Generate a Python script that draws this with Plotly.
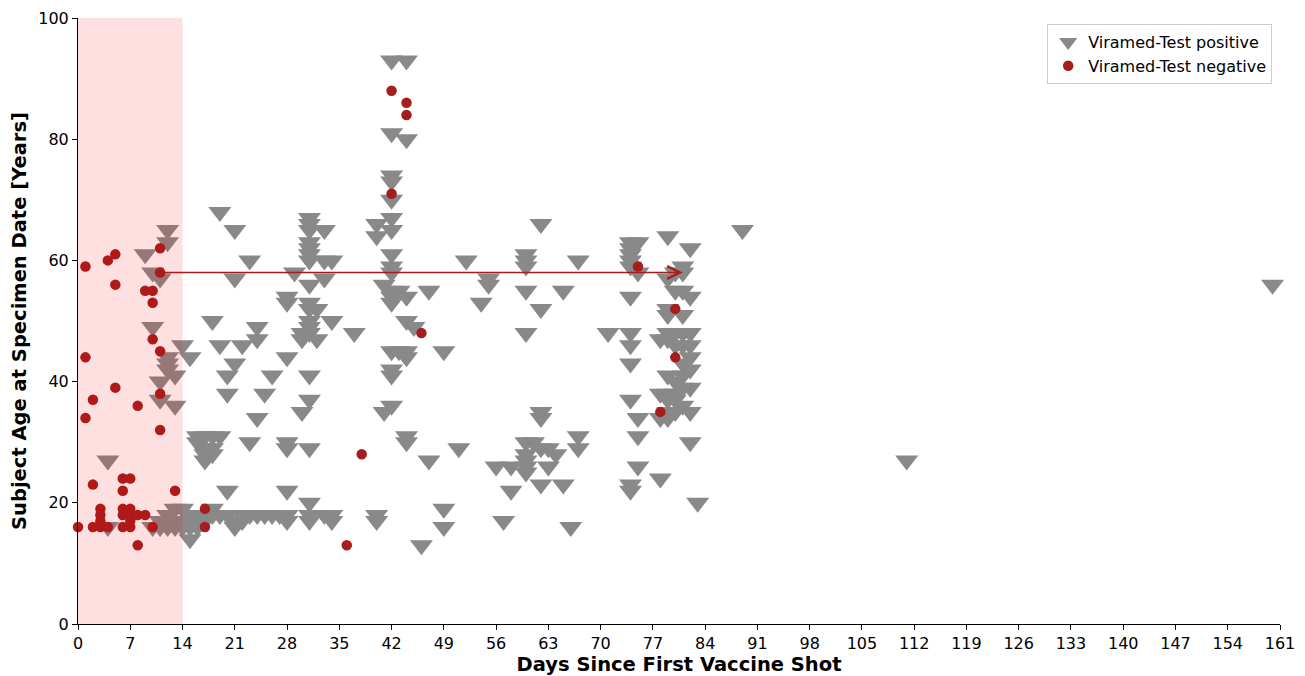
import plotly.graph_objects as go

# ---- data ----
pos_by_day = {
    4: [27, 16],
    9: [61],
    10: [58, 49, 16],
    11: [57, 40, 37, 17, 16],
    12: [65, 63, 44, 43, 42, 18, 17, 16],
    13: [41, 36, 19, 17, 16],
    14: [46, 19, 17, 16],
    15: [44, 18, 16, 14],
    16: [31, 30, 18, 17, 16],
    17: [31, 29, 28, 27, 18, 17],
    18: [50, 31, 29, 28, 19, 18],
    19: [68, 46, 31, 18],
    20: [41, 38, 22, 18],
    21: [65, 57, 43, 17, 16],
    22: [46, 18, 17],
    23: [60, 30, 18],
    24: [49, 47, 34, 18],
    25: [38, 18],
    26: [41, 18],
    27: [18],
    28: [54, 53, 44, 30, 29, 22, 18, 17],
    29: [58],
    30: [48, 47, 35],
    31: [67, 66, 65, 63, 62, 61, 60, 56, 53, 52, 50, 49, 48, 41, 37, 29, 20, 18, 17],
    32: [52, 47],
    33: [65, 60, 57, 18],
    34: [60, 50, 18, 17],
    37: [48],
    40: [66, 64, 18, 17],
    41: [56, 35],
    42: [93, 81, 74, 73, 70, 67, 65, 61, 59, 58, 55, 54, 53, 45, 42, 41, 36],
    43: [55, 45],
    44: [93, 80, 54, 50, 45, 44, 31, 30],
    45: [49],
    46: [13],
    47: [55, 27],
    49: [45, 19, 16],
    51: [29],
    52: [60],
    54: [53],
    55: [57, 56],
    56: [26],
    57: [17],
    58: [26, 22],
    60: [61, 60, 59, 55, 48, 30, 28, 27, 26, 25],
    61: [30],
    62: [66, 52, 35, 34, 29, 23],
    63: [29, 26],
    64: [28],
    65: [55, 23],
    66: [16],
    67: [60, 31, 29],
    71: [48],
    74: [63, 62, 61, 60, 59, 54, 48, 46, 43, 37, 23, 22],
    75: [63, 58, 34, 31, 26],
    78: [47, 38, 34, 24],
    79: [64, 57, 52, 51, 48, 47, 41, 38, 37, 35, 34],
    80: [58, 55, 48, 46, 40, 38, 37, 35],
    81: [59, 58, 55, 51, 48, 46, 43, 41, 39, 36],
    82: [62, 54, 48, 46, 44, 42, 39, 35, 30],
    83: [20],
    89: [65],
    111: [27],
    160: [56],
}
pos_days = [d for d, ages in pos_by_day.items() for _ in ages]
pos_ages = [a for d, ages in pos_by_day.items() for a in ages]

neg_days = [0, 1, 1, 1, 2, 2, 2, 3, 3, 3, 3, 4, 4, 5, 5, 5, 6, 6, 6, 6, 6,
            7, 7, 7, 7, 7, 8, 8, 8, 9, 9, 10, 10, 10, 10, 11, 11, 11, 11, 11,
            13, 17, 17, 36, 38, 42, 42, 44, 44, 46, 75, 78, 80, 80]
neg_ages = [16, 59, 44, 34, 37, 23, 16, 19, 18, 17, 16, 60, 16, 61, 56, 39, 24, 22, 19, 18, 16,
            24, 19, 18, 17, 16, 36, 18, 13, 55, 18, 55, 53, 47, 16, 62, 58, 45, 38, 32,
            22, 19, 16, 13, 28, 88, 71, 86, 84, 48, 59, 35, 52, 44]

shade_range = [0, 14]
arrow_days = [11, 81]
arrow_age = 58

x_ticks = list(range(0, 162, 7))
y_ticks = list(range(0, 101, 20))

GRAY = "#898989"
RED = "#a51d1d"
FONT = "DejaVu Sans"

fig = go.Figure()
fig.add_trace(go.Scatter(
    x=pos_days, y=pos_ages, mode="markers", name="Viramed-Test positive",
    marker=dict(symbol="triangle-down", size=20, color=GRAY, line=dict(width=0)),
    cliponaxis=False,
))
fig.add_trace(go.Scatter(
    x=neg_days, y=neg_ages, mode="markers", name="Viramed-Test negative",
    marker=dict(symbol="circle", size=10.5, color=RED, line=dict(width=0)),
    cliponaxis=False,
))

fig.add_shape(type="rect", xref="x", yref="y",
              x0=shade_range[0], x1=shade_range[1], y0=0, y1=100,
              fillcolor="rgba(255,0,0,0.12)", line=dict(width=0), layer="above")

fig.add_annotation(x=arrow_days[1], y=arrow_age, ax=arrow_days[0], ay=arrow_age,
                   xref="x", yref="y", axref="x", ayref="y", text="",
                   showarrow=True, arrowhead=5, arrowsize=1.8, arrowwidth=1.4,
                   arrowcolor=RED, standoff=0, startstandoff=0)

fig.update_layout(
    width=1305, height=676,
    margin=dict(l=78, r=25, t=18, b=52),
    paper_bgcolor="white", plot_bgcolor="white",
    font=dict(family=FONT, size=16, color="black"),
    showlegend=True,
    legend=dict(x=0.9935, y=0.99, xanchor="right", yanchor="top",
                bgcolor="white", bordercolor="#cccccc", borderwidth=1,
                font=dict(family=FONT, size=16), itemsizing="trace",
                tracegroupgap=0),
    xaxis=dict(range=[0, 161], tickvals=x_ticks, showgrid=False, zeroline=False,
               showline=True, linecolor="black", linewidth=1, automargin=False,
               ticks="outside", ticklen=5, tickcolor="black",
               tickfont=dict(size=16),
               title=dict(text="<b>Days Since First Vaccine Shot</b>", font=dict(size=19.5), standoff=4)),
    yaxis=dict(range=[0, 100], tickvals=y_ticks, showgrid=False, zeroline=False,
               showline=True, linecolor="black", linewidth=1, automargin=False,
               ticks="outside", ticklen=5, tickcolor="black",
               tickfont=dict(size=16),
               title=dict(text="<b>Subject Age at Specimen Date [Years]</b>", font=dict(size=19.5), standoff=6)),
)

fig.write_html("out.html")
